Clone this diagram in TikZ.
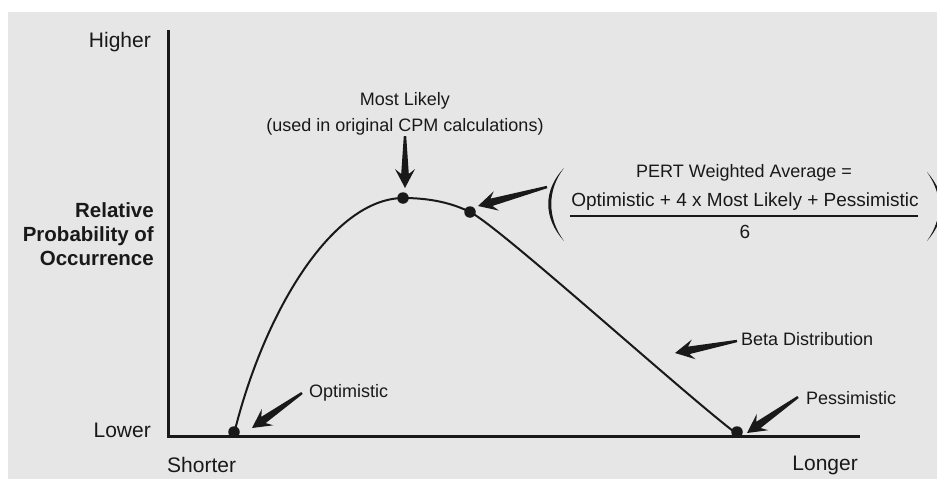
\documentclass[tikz,border=0pt]{standalone}
\usepackage{fontspec}
\setmainfont{Liberation Sans}
\usetikzlibrary{calc}
\definecolor{panel}{RGB}{230,230,230}
\definecolor{ink}{RGB}{25,25,25}

% filled arrow whose tail tapers to a point: #1 = tail, #2 = tip
\newcommand\fatarrow[2]{%
  \fill[ink] (#2)
    -- ($(#2)!19pt!(#1)!10pt!90:(#1)$)
    -- ($(#2)!14pt!(#1)!3.8pt!90:(#1)$)
    -- ($(#1)!1.2pt!-90:(#2)$)
    -- ($(#1)!1.2pt!90:(#2)$)
    -- ($(#2)!14pt!(#1)!3.8pt!-90:(#1)$)
    -- ($(#2)!19pt!(#1)!10pt!-90:(#1)$)
    -- cycle;}

\tikzset{
  lbl/.style={text=ink, inner sep=0pt, font=\fontsize{18}{26}\selectfont},
  frm/.style={text=ink, inner sep=0pt, font=\fontsize{19}{24}\selectfont},
  axislbl/.style={text=ink, inner sep=0pt, font=\fontsize{21}{24}\selectfont},
  ylbl/.style={text=ink, inner sep=0pt, align=right, font=\fontsize{20.5}{24}\selectfont\bfseries},
  dot/.style={circle, fill=ink, inner sep=0pt, minimum size=11.5pt},
  axis/.style={ink, line width=3pt},
  curve/.style={ink, line width=2pt},
}

\begin{document}
\begin{tikzpicture}[x=1pt, y=-1pt]
  \useasboundingbox (0,0) rectangle (937,479);
  \fill[white] (0,0) rectangle (937,479);
  \fill[panel] (8,12) rectangle (937,479);

  % axes
  \coordinate (ytop) at (168,30);
  \coordinate (orig) at (168,436);
  \coordinate (xend) at (860,436);
  \draw[axis] (ytop) -- (orig) -- (xend);

  % axis labels
  \node[axislbl, anchor=east] (higher) at (151,42) {Higher};
  \node[axislbl, anchor=east] (lower) at (151,430) {Lower};
  \node[ylbl, anchor=east] (yname) at (154,234) {Relative\\Probability of\\Occurrence};
  \node[axislbl, anchor=west] (shorter) at (167,465) {Shorter};
  \node[axislbl, anchor=east] (longer) at (858,465) {Longer};

  % beta distribution curve
  \draw[curve] (234,434) .. controls (263,315) and (331,199) .. (403,198)
               .. controls (430,198) and (452,203) .. (470,212)
               .. controls (500,227) and (685,395) .. (737,434);

  % marked points on the curve
  \node[dot] (opt) at (234,432) {};
  \node[dot] (ml)  at (403,198) {};
  \node[dot] (pwa) at (470,212) {};
  \node[dot] (pes) at (737,432) {};

  % labels
  \node[lbl, align=center] (mltxt) at (405,114) {Most Likely\\(used in original CPM calculations)};
  \node[lbl, anchor=west] (opttxt) at (309,393) {Optimistic};
  \node[lbl, anchor=west] (betatxt) at (741,339) {Beta Distribution};
  \node[lbl, anchor=west] (pestxt) at (806,398) {Pessimistic};

  % weighted average formula
  \node[lbl] (pwatitle) at (744,173) {PERT Weighted Average =};
  \node[frm] (pwanum) at (745,202) {Optimistic + 4 x Most Likely + Pessimistic};
  \node[frm] (pwaden) at (745,232) {6};
  \coordinate (barl) at (570,216);
  \coordinate (barr) at (918,216);
  \draw[ink, line width=1.6pt] (barl) -- (barr);
  \fill[ink] (564,168) .. controls (543,190) and (543,218) .. (564,241)
             .. controls (547,218) and (547,190) .. (564,168);
  \fill[ink] (927,172) .. controls (947,195) and (947,218) .. (927,241)
             .. controls (943,218) and (943,195) .. (927,172);

  % pointer arrows
  \coordinate (mlA) at (405,136);  \coordinate (mlB) at (405,188);
  \coordinate (pwaA) at (547,187); \coordinate (pwaB) at (478,206);
  \coordinate (optA) at (302,393); \coordinate (optB) at (252,428);
  \coordinate (betaA) at (737,341); \coordinate (betaB) at (675,353);
  \coordinate (pesA) at (798,397); \coordinate (pesB) at (747,433);
  \fatarrow{mlA}{mlB}
  \fatarrow{pwaA}{pwaB}
  \fatarrow{optA}{optB}
  \fatarrow{betaA}{betaB}
  \fatarrow{pesA}{pesB}
\end{tikzpicture}
\end{document}
